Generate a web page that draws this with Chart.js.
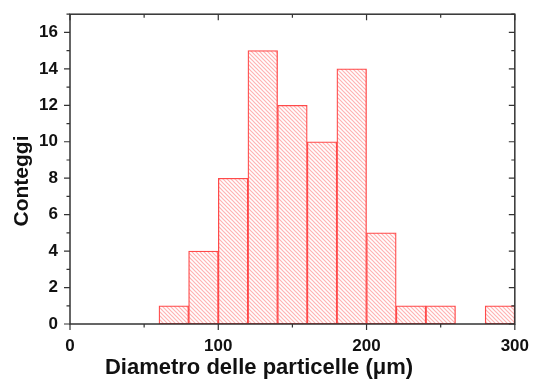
<!DOCTYPE html>
<html>
<head>
<meta charset="utf-8">
<script src="https://cdn.jsdelivr.net/npm/chart.js@4"></script>
<style>
  html, body { margin: 0; padding: 0; background: #fff; }
  #wrap { width: 533px; height: 385px; }
</style>
</head>
<body>
<div id="wrap"><canvas id="histChart" width="533" height="385"></canvas></div>
<script>
// bins (start of each 20 um bin) and counts
const binStarts = [60, 80, 100, 120, 140, 160, 180, 200, 220, 240, 260, 280];
const binWidth = 20;
const counts = [1, 4, 8, 15, 12, 10, 14, 5, 1, 1, 0, 1];

const xTicks = [0, 100, 200, 300];
const yTicks = [0, 2, 4, 6, 8, 10, 12, 14, 16];

const xTitle = 'Diametro delle particelle (\u03bcm)';
const yTitle = 'Conteggi';

const axisColor = '#333333';
const barBorder = '#ff4a4a';

// diagonal hatch like the origin-style fill
const makeHatch = () => {
    const c = document.createElement('canvas');
    c.width = 4; c.height = 4;
    const g = c.getContext('2d');
    g.fillStyle = '#ffffff';
    g.fillRect(0, 0, 4, 4);
    g.strokeStyle = '#ffb3b3';
    g.lineWidth = 1.2;
    g.beginPath();
    g.moveTo(-1, -1); g.lineTo(5, 5);
    g.moveTo(-1, 3); g.lineTo(1, 5);
    g.moveTo(3, -1); g.lineTo(5, 1);
    g.stroke();
    return g.createPattern(c, 'repeat');
};

const centers = binStarts.map(s => s + binWidth / 2);

// frame, mirrored ticks, minor ticks and axis titles
const framePlugin = {
    id: 'frame',
    afterDraw(chart) {
        const ctx = chart.ctx;
        const a = chart.chartArea;
        const xs = chart.scales.x;
        const ys = chart.scales.y;
        ctx.save();
        ctx.strokeStyle = axisColor;
        ctx.lineWidth = 1.5;
        ctx.strokeRect(a.left, a.top, a.right - a.left, a.bottom - a.top);

        ctx.lineWidth = 1.2;
        ctx.beginPath();
        for (let v = 0; v <= 300; v += 50) {
            const px = xs.getPixelForValue(v);
            const len = v % 100 === 0 ? 6 : 3.5;
            ctx.moveTo(px, a.bottom); ctx.lineTo(px, a.bottom + len);
            ctx.moveTo(px, a.top); ctx.lineTo(px, a.top + len);
        }
        for (let v = 0; v <= 17; v += 1) {
            const py = ys.getPixelForValue(v);
            const len = v % 2 === 0 ? 6 : 3.5;
            ctx.moveTo(a.left, py); ctx.lineTo(a.left - len, py);
            ctx.moveTo(a.right, py); ctx.lineTo(a.right - len, py);
        }
        ctx.stroke();

        ctx.fillStyle = '#111';
        ctx.font = 'bold 22px Arial, "Liberation Sans", sans-serif';
        ctx.textAlign = 'center';
        ctx.textBaseline = 'alphabetic';
        ctx.fillText(xTitle, 259, 374);

        ctx.translate(28, 181);
        ctx.rotate(-Math.PI / 2);
        ctx.font = 'bold 21px Arial, "Liberation Sans", sans-serif';
        ctx.fillText(yTitle, 0, 0);
        ctx.restore();
    }
};

const ctx = document.getElementById('histChart').getContext('2d');

const histChart = new Chart(ctx, {
    type: 'bar',
    data: {
        datasets: [{
            data: centers.map((c, i) => ({ x: c, y: counts[i] })),
            backgroundColor: makeHatch(),
            borderColor: barBorder,
            borderWidth: 1.3,
            borderSkipped: false,
            barPercentage: 1,
            categoryPercentage: 1
        }]
    },
    options: {
        responsive: false,
        animation: false,
        layout: { padding: { left: 0, right: 12, top: 2, bottom: 0 } },
        plugins: {
            legend: { display: false },
            tooltip: { enabled: false }
        },
        scales: {
            x: {
                type: 'linear',
                min: 0,
                max: 300,
                offset: false,
                afterBuildTicks: s => { s.ticks = xTicks.map(v => ({ value: v })); },
                afterFit: s => { s.height = 61; },
                grid: { display: false },
                border: { display: false },
                ticks: {
                    padding: 4,
                    maxRotation: 0,
                    color: '#111',
                    font: { family: 'Arial, "Liberation Sans", sans-serif', size: 17, weight: 'bold' }
                }
            },
            y: {
                min: 0,
                max: 17,
                afterBuildTicks: s => { s.ticks = yTicks.map(v => ({ value: v })); },
                afterFit: s => { s.width = 70; },
                grid: { display: false },
                border: { display: false },
                ticks: {
                    padding: 4,
                    color: '#111',
                    font: { family: 'Arial, "Liberation Sans", sans-serif', size: 17, weight: 'bold' }
                }
            }
        }
    },
    plugins: [framePlugin]
});
</script>
</body>
</html>
